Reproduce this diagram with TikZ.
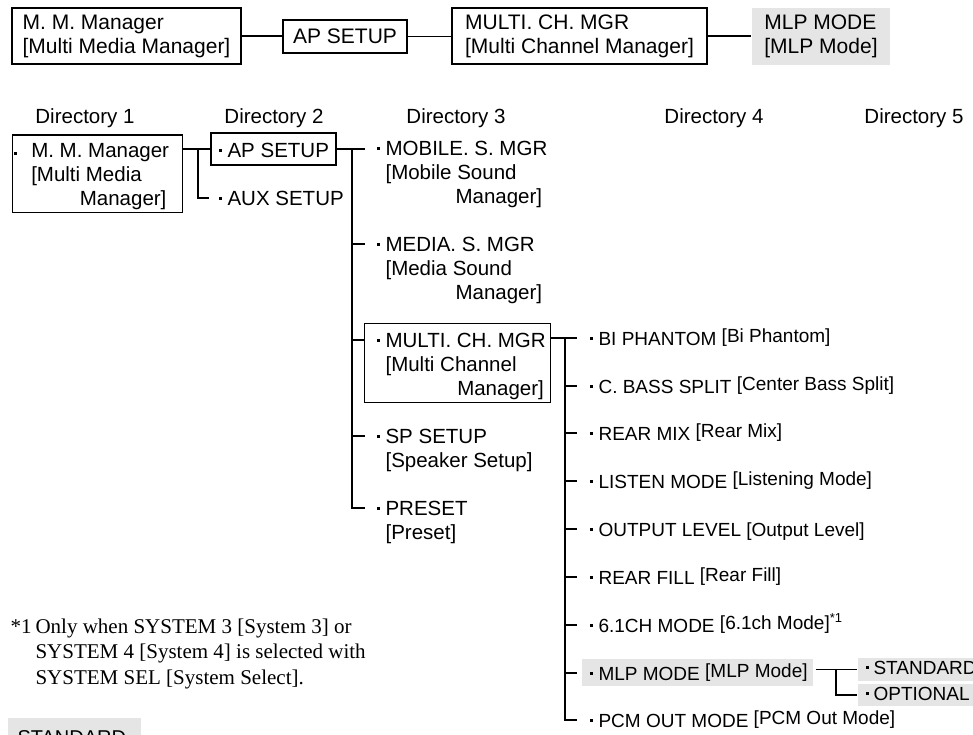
\documentclass[tikz,border=0pt]{standalone}
\usepackage{fontspec}
\setmainfont{Liberation Sans}
\newfontfamily\notefont{Liberation Serif}
\usetikzlibrary{fit}

\newcommand{\bul}[1][6pt]{\llap{\rule[5.5pt]{3pt}{3pt}\hspace{#1}}}
\newcommand{\br}[1]{\raisebox{3pt}{[#1]}}

\begin{document}
\begin{tikzpicture}[x=1pt, y=-1pt, line width=1.1pt,
  topbox/.style={draw, font=\fontsize{21}{24}\selectfont, align=left, inner sep=0pt},
  hdr/.style={anchor=base, font=\fontsize{20.5}{24}\selectfont},
  item/.style={anchor=base west, inner sep=0pt, align=left, font=\fontsize{20.5}{24}\selectfont},
  sub/.style={anchor=base west, inner sep=0pt, font=\fontsize{19}{23}\selectfont},
  boxfr/.style={draw, inner sep=0pt, fit={#1}},
  hilite/.style={fill=black!10, draw=none, inner sep=0pt, fit={#1}}]
\useasboundingbox (0,0) rectangle (973,734);
\clip (0,0) rectangle (973,734);

% path across the menus
\node[topbox, minimum width=229pt, minimum height=56pt] (mmTop) at (126.5,36) {M. M. Manager\\{}[Multi Media Manager]};
\node[topbox, minimum width=124pt, minimum height=33pt] (apTop) at (345,36.5) {AP SETUP};
\node[topbox, minimum width=255pt, minimum height=56pt] (mcTop) at (579.5,36) {MULTI. CH. MGR\\{}[Multi Channel Manager]};
\node[topbox, draw=none, fill=black!10, minimum width=138pt, minimum height=57pt] (mlpTop) at (821,36.5) {MLP MODE\\{}[MLP Mode]};
\draw (mmTop.east) -- (mmTop.east -| apTop.west);
\draw (apTop.east) -- (apTop.east -| mcTop.west);
\draw (mcTop.east) -- (mcTop.east -| mlpTop.west);

% column heads
\node[hdr] (d1) at (85,123) {Directory 1};
\node[hdr] (d2) at (274,123) {Directory 2};
\node[hdr] (d3) at (456,123) {Directory 3};
\node[hdr] (d4) at (714,123) {Directory 4};
\node[hdr] (d5) at (914,123) {Directory 5};

% directory 1 and 2 (multi-line items sit on their last baseline)
\node[boxfr={(12.7,135) (182.3,212.7)}] (mmDir) {};
\node[item] (mmItem) at (30.7,205) {\llap{\rule[2pt]{3pt}{3pt}\hspace{14pt}}M. M. Manager\\{}[Multi Media\\\hspace*{48.6pt}Manager]};
\node[boxfr={(211,133) (336,165)}] (apDir) {};
\node[item] (apItem) at (227,157) {\bul AP SETUP};
\node[item] (auxItem) at (227,205) {\bul AUX SETUP};
\coordinate (j12) at (198,149);
\draw (mmDir.east |- apDir.west) -- (apDir.west);
\draw (j12) |- ([xshift=-18pt, yshift=7pt]auxItem.base west);

% directory 3
\node[item] (mobile) at (385,203) {\bul MOBILE. S. MGR\\{}[Mobile Sound\\\hspace*{70pt}Manager]};
\node[item] (media) at (385,299) {\bul MEDIA. S. MGR\\{}[Media Sound\\\hspace*{70pt}Manager]};
\node[boxfr={(364.3,323.3) (550.7,402.7)}] (mcDir) {};
\node[item] (mcItem) at (385,395) {\bul MULTI. CH. MGR\\{}[Multi Channel\\\hspace*{71.7pt}Manager]};
\node[item] (sp) at (385,467) {\bul SP SETUP\\{}[Speaker Setup]};
\node[item] (preset) at (385,539) {\bul PRESET\\{}[Preset]};
\coordinate (j23) at (352,149);
\draw (apDir.east) -- ([xshift=-20pt]apDir.east -| mobile.base west);
\draw (j23) |- ([xshift=-20pt, yshift=31pt]preset.base west);
\draw ([xshift=-20pt, yshift=55pt]media.base west) -- ++(-13,0);
\draw ([xshift=-20pt, yshift=31pt]sp.base west) -- ++(-13,0);
\draw ([xshift=-20.7pt, yshift=55pt]mcItem.base west) -- ++(-12.3,0);

% directory 4
\node[hilite={(581.7,659) (812.7,685.7)}] (mlpRow) {};
\node[sub] (biph) at (598,345) {\bul BI PHANTOM \br{Bi Phantom}};
\node[sub] (cbass) at (598,393) {\bul C. BASS SPLIT \br{Center Bass Split}};
\node[sub] (rmix) at (598,440) {\bul REAR MIX \br{Rear Mix}};
\node[sub] (listen) at (598,488) {\bul LISTEN MODE \br{Listening Mode}};
\node[sub] (outlvl) at (598,536) {\bul OUTPUT LEVEL [Output Level]};
\node[sub] (rfill) at (598,584) {\bul REAR FILL \br{Rear Fill}};
\node[sub] (sixch) at (598,632) {\bul 6.1CH MODE \br{6.1ch Mode}\raisebox{10pt}{\fontsize{13}{13}\selectfont *1}};
\node[sub] (mlp) at (598,680) {\bul MLP MODE \br{MLP Mode}};
\node[sub] (pcm) at (598,727) {\bul PCM OUT MODE \br{PCM Out Mode}};
\coordinate (j34) at (565,338);
\draw (mcDir.east |- j34) -- ([xshift=-21pt, yshift=7pt]biph.base west);
\draw (j34) |- ([xshift=-21pt, yshift=7pt]pcm.base west);
\foreach \n in {cbass, rmix, listen, outlvl, rfill, sixch, mlp}
  \draw ([xshift=-21pt, yshift=7pt]\n.base west) -- ++(-12,0);

% directory 5
\node[hilite={(857.7,658) (990,681)}] (stdRow) {};
\node[hilite={(857.7,684) (990,706)}] (optRow) {};
\node[sub] (std) at (873,674) {\bul[4.5pt]STANDARD};
\node[sub] (opt) at (873,700) {\bul[4.5pt]OPTIONAL};
\coordinate (m5) at (815.7,669.5);
\coordinate (j45) at (836,669.5);
\draw (m5) -- (stdRow.west);
\draw (j45) |- (optRow.west);

% note and key
\node[anchor=base west, inner sep=0pt, align=left, font=\notefont\fontsize{21}{25.5}\selectfont] (note) at (10,684)
  {\makebox[25pt][l]{*1}Only when SYSTEM 3 [System 3] or\\\hspace*{25pt}SYSTEM 4 [System 4] is selected with\\\hspace*{25pt}SYSTEM SEL [System Select].};
\node[hilite={(8,718) (141,752)}] (key) {};
\node[anchor=base west, inner sep=0pt, font=\fontsize{20}{24}\selectfont] (keyTxt) at (17,744) {STANDARD};
\end{tikzpicture}
\end{document}
